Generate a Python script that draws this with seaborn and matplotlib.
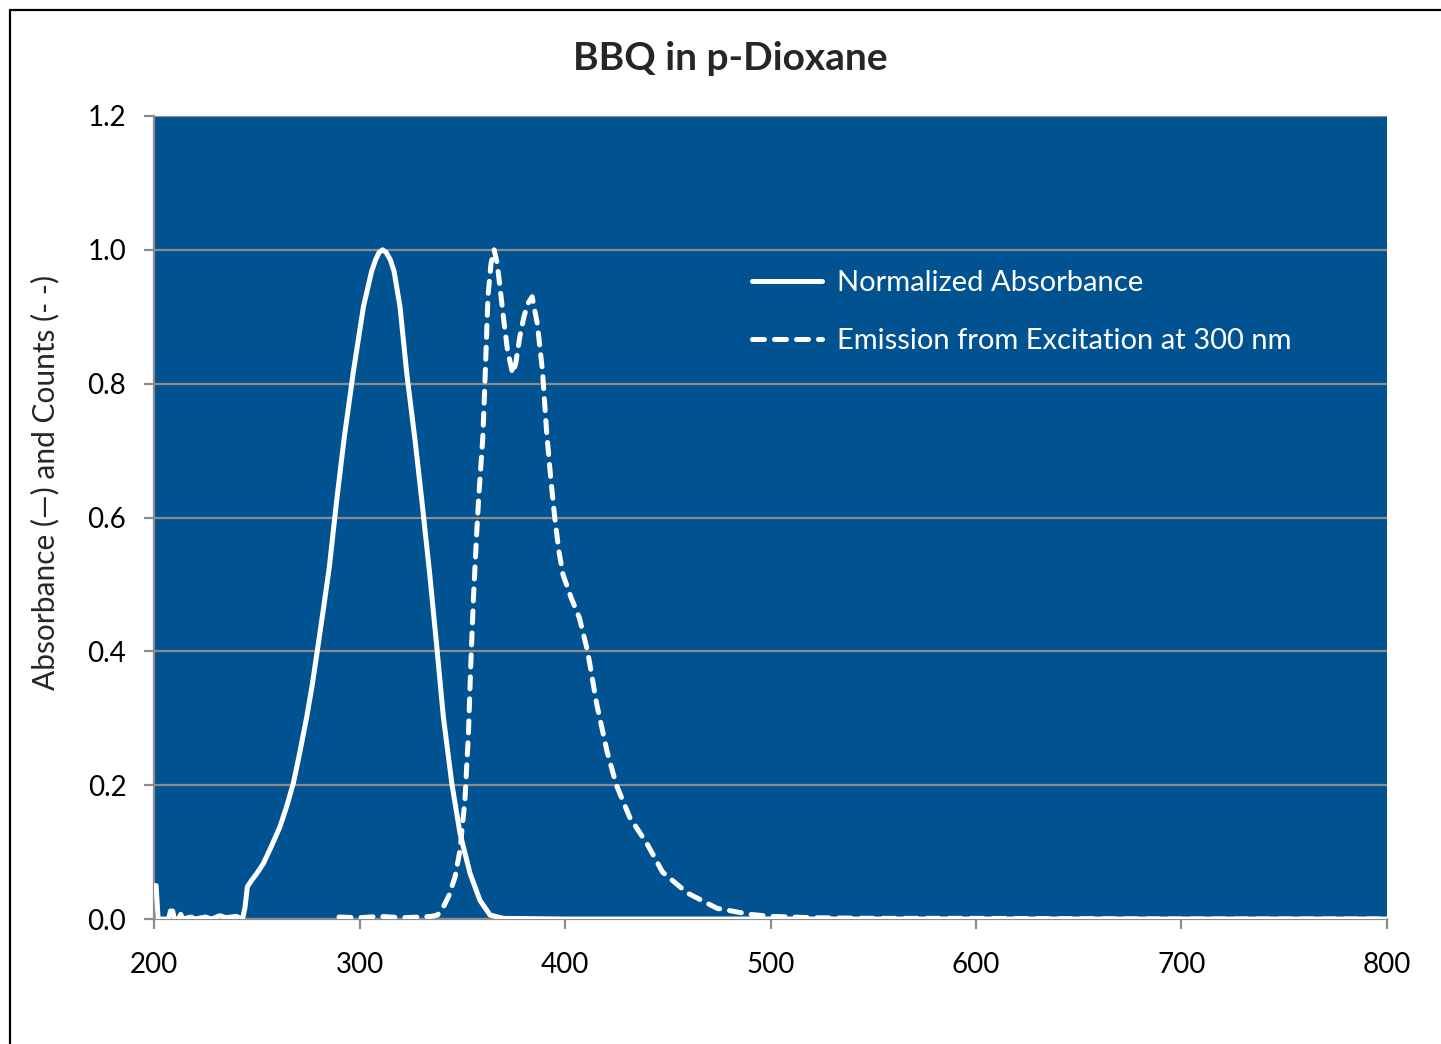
import numpy as np
import pandas as pd
import matplotlib
matplotlib.use("Agg")
import matplotlib.pyplot as plt
from matplotlib.lines import Line2D
import seaborn as sns

# wavelength (nm) and normalized absorbance
abs_nm = [200, 201, 202, 205, 207, 208, 209, 210, 212, 213, 214, 218, 220, 225, 228,
          232, 235, 240, 243, 243.3, 244.3, 245.4, 247.5, 250, 253.2, 257, 261.3, 264.5,
          267.8, 271, 274.3, 277, 279.5, 282.5, 285.3, 288.9, 292.5, 297, 301.9, 305.9,
          307.8, 309.5, 311.2, 313, 315, 316.8, 319.7, 323, 327, 330.3, 334, 337.5, 340.8,
          344.9, 348.9, 353.8, 358.6, 363.5, 370, 400, 500, 600, 700, 800]
abs_val = [0.05, 0.05, 0.0, 0.0, 0.0, 0.012, 0.012, 0.0, 0.0, 0.007, 0.0, 0.003, 0.0, 0.003, 0.0,
           0.005, 0.002, 0.004, 0.0, 0.003, 0.018, 0.048, 0.058, 0.068, 0.083, 0.108, 0.138, 0.168,
           0.203, 0.25, 0.302, 0.35, 0.402, 0.465, 0.526, 0.626, 0.718, 0.818, 0.915, 0.968,
           0.985, 0.996, 1.0, 0.996, 0.985, 0.968, 0.915, 0.815, 0.716, 0.626, 0.52, 0.41, 0.302,
           0.203, 0.128, 0.068, 0.028, 0.006, 0.001, 0.0, 0.0, 0.0, 0.0, 0.0]

# emission spectrum (excitation at 300 nm), normalized counts
em_nm = [290, 300, 310, 320, 330, 335, 338, 340.8, 343.5, 346.5, 348.9, 351.3, 353, 354.1,
         355.4, 357, 358, 360, 361, 362.5, 364, 365.5, 367, 368.5, 370, 372, 374.5, 376,
         378, 380, 382, 384, 386.5, 389, 391, 393, 395, 397, 399, 403, 407, 411, 415.5,
         420.5, 425, 431.5, 440, 447.5, 459.5, 474, 490, 500, 520, 550, 600, 700, 800]
em_val = [0.003, 0.002, 0.004, 0.002, 0.003, 0.004, 0.006, 0.018, 0.035, 0.063, 0.103, 0.178, 0.277, 0.377,
          0.477, 0.576, 0.63, 0.72, 0.8, 0.93, 0.98, 1.0, 0.98, 0.94, 0.9, 0.85, 0.815, 0.83,
          0.87, 0.9, 0.92, 0.93, 0.89, 0.82, 0.73, 0.66, 0.6, 0.55, 0.515, 0.48, 0.45, 0.4, 0.32,
          0.25, 0.2, 0.152, 0.112, 0.07, 0.039, 0.016, 0.007, 0.004, 0.002, 0.001, 0.001, 0.0, 0.0]

df_abs = pd.DataFrame({"nm": abs_nm, "val": abs_val})
df_em = pd.DataFrame({"nm": em_nm, "val": em_val})

sns.set_style("white")
plt.rcParams["font.family"] = ["Lato", "DejaVu Sans"]

fig = plt.figure(figsize=(14.41, 10.44), dpi=100)
ax = fig.add_axes([0.1069, 0.1197, 0.8556, 0.7692])
ax.set_facecolor("#015291")

ax.yaxis.grid(True, color="#8c8c8c", linewidth=1.6)
ax.set_axisbelow(True)

sns.lineplot(data=df_abs, x="nm", y="val", ax=ax, color="white", linewidth=3.6,
             label="Normalized Absorbance", zorder=3, solid_joinstyle="round")
sns.lineplot(data=df_em, x="nm", y="val", ax=ax, color="white", linewidth=3.6,
             label="Emission from Excitation at 300 nm", zorder=3,
             linestyle=(0, (2.4, 2.0)), dash_capstyle="round")

ax.set_xlim(200, 800)
ax.set_ylim(0, 1.2)
ax.set_xticks(range(200, 801, 100))
ax.set_yticks(np.arange(0, 1.21, 0.2))
ax.yaxis.set_major_formatter(matplotlib.ticker.FormatStrFormatter("%.1f"))
ax.tick_params(axis="both", labelsize=20, colors="#8c8c8c", labelcolor="black",
               length=7, width=1.6, direction="out")
ax.tick_params(axis="x", bottom=True, pad=17)
ax.tick_params(axis="y", left=True, pad=13)

for s in ["top", "right"]:
    ax.spines[s].set_visible(False)
for s in ["left", "bottom"]:
    ax.spines[s].set_color("#8c8c8c")
    ax.spines[s].set_linewidth(1.6)

ax.set_xlabel("")
ax.set_ylabel("Absorbance (\u2014) and Counts (- -)", fontsize=21.5)
ax.yaxis.set_label_coords(-0.077, 0.544)

leg = ax.legend(loc="upper left", bbox_to_anchor=(0.485, 0.808), frameon=False,
                fontsize=21, handlelength=2.4, handletextpad=0.5, labelspacing=1.09,
                borderpad=0, borderaxespad=0)
for t in leg.get_texts():
    t.set_color("white")

fig.text(0.507, 0.944, "BBQ in p-Dioxane", ha="center", va="center",
         fontsize=28, fontweight="bold")

# outer chart border (only left and top edges are visible)
fig.add_artist(Line2D([0.0069, 0.0069], [0.0, 0.9904], transform=fig.transFigure,
                      color="black", linewidth=1.6))
fig.add_artist(Line2D([0.0069, 1.0], [0.9904, 0.9904], transform=fig.transFigure,
                      color="black", linewidth=1.6))

fig.savefig("out.png", dpi=100)
